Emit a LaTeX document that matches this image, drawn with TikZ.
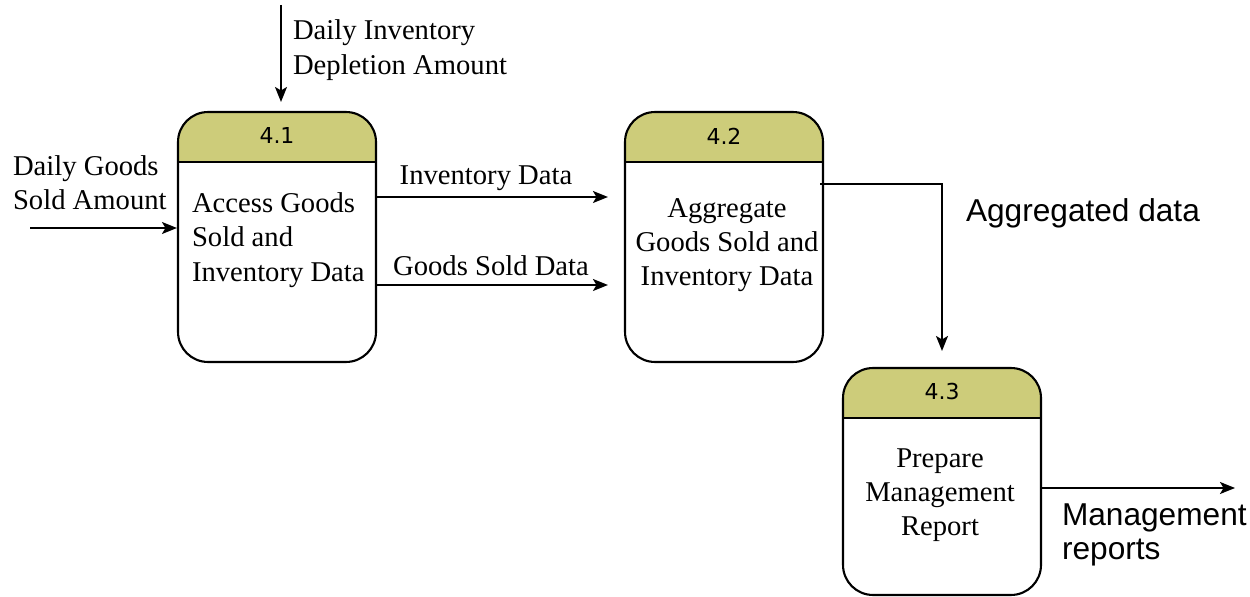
\documentclass[tikz,border=0pt]{standalone}
\usepackage{fontspec}
\setmainfont{Liberation Serif}
\newfontfamily\labelfont{Liberation Sans}
\newfontfamily\numfont{DejaVu Sans}
\usepackage{tikz}
\usetikzlibrary{arrows.meta}
\usetikzlibrary{shapes}
\definecolor{headcolor}{RGB}{205,204,122}

\begin{document}
\begin{tikzpicture}[x=0.02cm,y=-0.02cm,line width=1.2pt,
 flow/.style={-{Stealth[length=0.3cm,width=0.24cm,inset=0.07cm]},line width=1pt},
 process/.style={draw,rounded corners=0.6cm,minimum width=3.96cm,minimum height=#1,inner sep=0pt,
  path picture={
   \fill[headcolor,sharp corners] (path picture bounding box.north west) rectangle ([yshift=-1cm]path picture bounding box.north east);
   \draw[sharp corners] ([yshift=-1cm]path picture bounding box.north west) -- ([yshift=-1cm]path picture bounding box.north east);}},
 num/.style={font=\numfont\fontsize{12.5}{14}\selectfont,inner sep=0pt},
 body/.style={font=\fontsize{16.3}{19.5}\selectfont,align=center,inner sep=0pt},
 sans/.style={font=\labelfont\fontsize{18}{19}\selectfont,align=left,inner sep=0pt}]
 \useasboundingbox (0,0) rectangle (1250,597);

 \node[process=5cm] (p1) at (277,237) {};
 \node[process=5cm] (p2) at (724,237) {};
 \node[process=4.54cm] (p3) at (942,481.5) {};

 \node[num] (n1) at ([yshift=-0.5cm]p1.north) {4.1};
 \node[num] (n2) at ([yshift=-0.5cm]p2.north) {4.2};
 \node[num] (n3) at ([yshift=-0.5cm]p3.north) {4.3};

 \node[body,align=left,anchor=west] (t1) at (191,240) {Access Goods\\Sold and\\Inventory Data};
 \node[body] (t2) at (727,245) {Aggregate\\Goods Sold and\\Inventory Data};
 \node[body] (t3) at (940,495) {Prepare\\Management\\Report};

 \coordinate (dep) at (281,5);
 \coordinate (sold) at (30,228);
 \coordinate (rep) at (1235,488);
 \draw[flow,shorten >=0.18cm] (dep) -- (dep |- p1.north);
 \draw[flow] (sold) -- (sold -| p1.west);
 \draw[flow,shorten >=0.32cm] (p1.east |- 0,197) -- (p2.west |- 0,197);
 \draw[flow,shorten >=0.32cm] (p1.east |- 0,285) -- (p2.west |- 0,285);
 \draw[flow,shorten >=0.32cm] ([xshift=-0.08cm]p2.east |- 0,184) -| (p3.north);
 \draw[flow] (p3.east |- rep) -- (rep);

 \node[body,align=left,anchor=west] (l1) at (292,50) {Daily Inventory\\Depletion Amount};
 \node[body,align=left,anchor=west] (l2) at (12,183) {Daily Goods\\Sold Amount};
 \node[body] (l3) at (486,178) {Inventory Data};
 \node[body] (l4) at (491,266) {Goods Sold Data};
 \node[sans,anchor=west] (l5) at (965,213) {Aggregated data};
 \node[sans,anchor=west] (l6) at (1061,535) {Management\\reports};
\end{tikzpicture}
\end{document}
